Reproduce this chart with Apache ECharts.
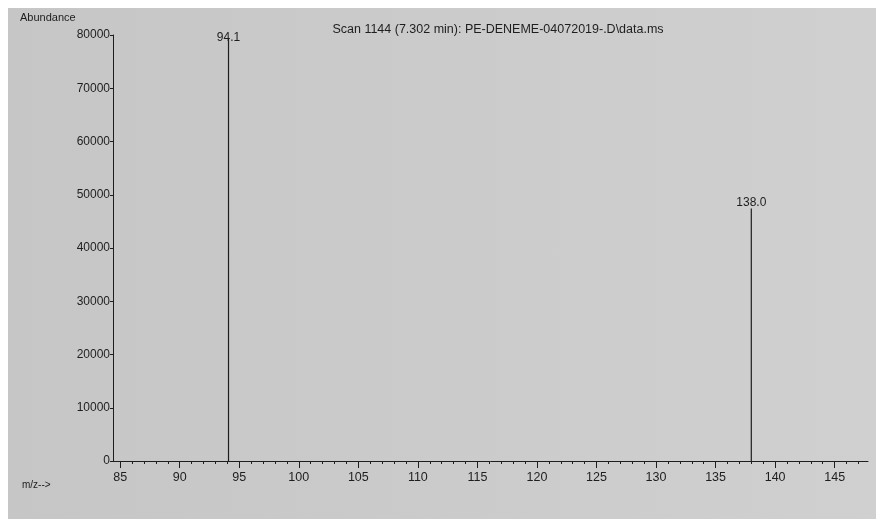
<!DOCTYPE html>
<html>
<head>
<meta charset="utf-8">
<script src="https://cdn.jsdelivr.net/npm/echarts@6/dist/echarts.min.js"></script>
<style>
  html, body { margin: 0; padding: 0; background: #ffffff; }
  #bg { position: absolute; left: 8px; top: 8px; width: 868px; height: 511px;
        background: linear-gradient(90deg, #c6c6c6 0%, #cbcbcb 50%, #d0d0d0 100%); }
  #chart { position: absolute; left: 0; top: 0; width: 876px; height: 519px; }
</style>
</head>
<body>
<div id="bg"></div>
<div id="chart"></div>
<script>
// m/z values of the peaks and their abundances
const peakMz = [94.1, 138.0];
const peakAbundance = [79500, 47400];
const peakLabels = ['94.1', '138.0'];
const xTickLabels = [85, 90, 95, 100, 105, 110, 115, 120, 125, 130, 135, 140, 145];
const xMinorTicks = [];
for (let m = 85; m <= 147; m++) xMinorTicks.push(m);
const yTickLabels = [0, 10000, 20000, 30000, 40000, 50000, 60000, 70000, 80000];
const titleText = 'Scan 1144 (7.302 min): PE-DENEME-04072019-.D\\data.ms';

const chart = echarts.init(document.getElementById('chart'), null, { renderer: 'canvas' });
const font = 'Liberation Sans, Arial, sans-serif';
const ink = '#1e1e1e';
const xMin = 84.4, xMax = 147.8;

const data = peakMz.map((mz, i) => ({
  value: [mz, peakAbundance[i]],
  label: {
    show: true,
    formatter: peakLabels[i],
    position: 'top',
    distance: i === 0 ? -6 : 0
  }
}));

chart.setOption({
  backgroundColor: 'transparent',
  animation: false,
  title: {
    text: titleText,
    left: 493, top: 18, textAlign: 'center',
    textStyle: { fontFamily: font, fontSize: 12.5, fontWeight: 'normal', color: ink }
  },
  graphic: [
    { type: 'text', left: 20, top: 12, style: { text: 'Abundance', font: '11px ' + font, fill: ink } },
    { type: 'text', left: 22, top: 480, style: { text: 'm/z-->', font: '10px ' + font, fill: ink } }
  ],
  grid: { left: 113, right: 8, top: 35, bottom: 58, containLabel: false },
  xAxis: [{
    type: 'value', min: xMin, max: xMax,
    axisLine: { show: true, onZero: false, lineStyle: { color: ink, width: 1 } },
    axisTick: { show: true, length: 7, customValues: xTickLabels, lineStyle: { color: ink } },
    splitLine: { show: false },
    axisLabel: {
      fontFamily: font, fontSize: 12.5, color: ink, margin: 10,
      customValues: xTickLabels,
      formatter: v => String(v)
    }
  }, {
    type: 'value', min: xMin, max: xMax, position: 'bottom',
    axisLine: { show: false, onZero: false },
    axisTick: { show: true, length: 3, customValues: xMinorTicks, lineStyle: { color: ink } },
    splitLine: { show: false },
    axisLabel: { show: false }
  }],
  yAxis: {
    type: 'value', min: 0, max: 80000,
    axisLine: { show: true, lineStyle: { color: ink, width: 1 } },
    axisTick: { show: true, length: 3, customValues: yTickLabels, lineStyle: { color: ink } },
    splitLine: { show: false },
    axisLabel: { fontFamily: font, fontSize: 12, color: ink, margin: 3,
                 customValues: yTickLabels, formatter: v => String(v) }
  },
  series: [{
    type: 'bar',
    xAxisIndex: 0,
    barWidth: 1.2,
    itemStyle: { color: ink },
    label: { fontFamily: font, fontSize: 12, color: ink },
    data: data
  }]
});
</script>
</body>
</html>
